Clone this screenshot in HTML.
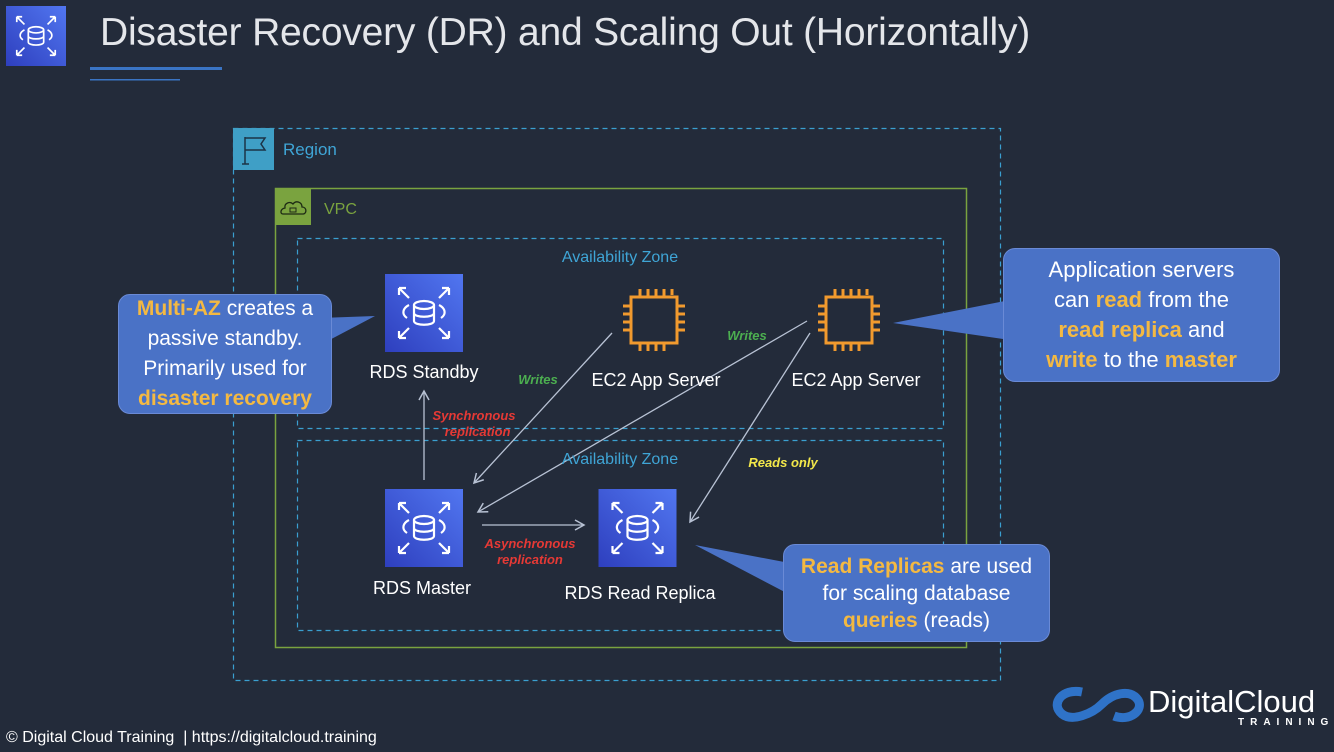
<!DOCTYPE html>
<html><head><meta charset="utf-8"><style>
body{margin:0;width:1334px;height:752px;background:#232b3a;overflow:hidden;font-family:"Liberation Sans",sans-serif;position:relative}
.a{position:absolute}
.t{position:absolute;white-space:nowrap;transform:translateX(-50%)}
.co{position:absolute;background:#4a72c6;border-radius:12px;border:1px solid #6a8ad6;color:#fff;font-size:21px;line-height:30px;text-align:center;display:flex;align-items:center;justify-content:center}
.y{color:#f4b942;font-weight:bold}
.lbl{position:absolute;font-size:13px;font-weight:bold;font-style:italic;text-align:center;line-height:16px;transform:translateX(-50%);white-space:nowrap}
</style></head><body>
<svg class="a" style="left:0;top:0" width="1334" height="752">
<defs>
<linearGradient id="g" x1="0" y1="1" x2="1" y2="0"><stop offset="0" stop-color="#2e3fbe"/><stop offset="1" stop-color="#5176f0"/></linearGradient>
<symbol id="rds" viewBox="0 0 78 78"><rect width="78" height="78" fill="url(#g)"/><g fill="none" stroke="#fff" stroke-width="2.2"><path d="M14 14l10 10M14 14h7M14 14v7M64 14l-10 10M64 14h-7M64 14v7M14 64l10-10M14 64h7M14 64v-7M64 64l-10-10M64 64h-7M64 64v-7"/><ellipse cx="39" cy="31" rx="10" ry="4"/><path d="M29 31v16c0 5 20 5 20 0V31M29 39c0 5 20 5 20 0"/><path d="M24 31c-6 3-8 9-2 13M54 31c6 3 8 9 2 13"/></g></symbol>
<symbol id="ec2" viewBox="0 0 68 68"><g fill="none" stroke="#f19a2e" stroke-width="3"><rect x="11" y="11" width="46" height="46"/><path d="M20 3v8M28 3v8M36 3v8M44 3v8M52 3v6M20 57v8M28 57v8M36 57v8M44 57v8M3 20h8M3 28h8M3 36h8M3 44h8M57 20h8M57 28h8M57 36h8M57 44h8"/></g></symbol>
<marker id="ar" markerWidth="12" markerHeight="12" refX="10" refY="6" orient="auto" markerUnits="userSpaceOnUse"><path d="M1 1L10 6L1 11" fill="none" stroke="#b8c2d4" stroke-width="1.5"/></marker>
</defs>
<use href="#rds" x="6" y="6" width="60" height="60"/>
<rect x="90" y="67" width="132" height="3" fill="#3a74c4"/>
<rect x="90" y="79" width="90" height="1.5" fill="#3a74c4"/>
<rect x="233.5" y="128.5" width="767" height="552" fill="none" stroke="#3a9fd0" stroke-dasharray="5,4" stroke-width="1.2"/>
<rect x="233" y="128" width="41" height="42" fill="#3f9fc6"/>
<g stroke="#1c3346" stroke-width="1.5" fill="none"><path d="M245 137v27M242 164h7M245 138h20l-4 6 4 6h-20"/></g>
<rect x="275.5" y="188.5" width="691" height="459" fill="none" stroke="#7aa33f" stroke-width="1.5"/>
<rect x="275" y="188" width="36" height="37" fill="#7aa33f"/>
<path d="M283 214h20c4 0 4-7-1-7 0-5-6-7-9-3-3-3-9-1-8 4-5 1-5 6-2 6z" fill="none" stroke="#1d2a14" stroke-width="1.3"/>
<rect x="290" y="208" width="6" height="4" fill="none" stroke="#1d2a14" stroke-width="1"/>
<rect x="297.5" y="238.5" width="646" height="190" fill="none" stroke="#3a9fd0" stroke-dasharray="5,4" stroke-width="1.2"/>
<rect x="297.5" y="440.5" width="646" height="190" fill="none" stroke="#3a9fd0" stroke-dasharray="5,4" stroke-width="1.2"/>
<use href="#rds" x="385" y="274" width="78" height="78"/>
<use href="#rds" x="385" y="489" width="78" height="78"/>
<use href="#rds" x="598" y="489" width="79" height="78"/>
<use href="#ec2" x="620" y="286" width="68" height="68"/>
<use href="#ec2" x="815" y="286" width="68" height="68"/>
<g stroke="#b8c2d4" stroke-width="1.3" marker-end="url(#ar)">
<line x1="424" y1="480" x2="424" y2="391"/>
<line x1="612" y1="333" x2="474" y2="483"/>
<line x1="807" y1="321" x2="478" y2="512"/>
<line x1="810" y1="333" x2="690" y2="522"/>
<line x1="482" y1="525" x2="584" y2="525"/>
</g>
<polygon points="320,318 375,316 320,345" fill="#4a72c6"/>
<polygon points="1010,300 893,323 1010,340" fill="#4a72c6"/>
<polygon points="800,565 695,545 800,600" fill="#4a72c6"/>
</svg>
<div class="a" style="left:100px;top:11px;font-size:39px;color:#e4e6ea;white-space:nowrap;letter-spacing:-0.2px">Disaster Recovery (DR) and Scaling Out (Horizontally)</div>
<div class="a" style="left:283px;top:140px;font-size:17px;color:#3fa5d6">Region</div>
<div class="a" style="left:324px;top:201px;font-size:16px;color:#7aa33f">VPC</div>
<div class="t" style="left:620px;top:249px;font-size:16px;color:#3fa5d6">Availability Zone</div>
<div class="t" style="left:620px;top:451px;font-size:16px;color:#3fa5d6">Availability Zone</div>
<div class="t" style="left:424px;top:362px;font-size:18px;color:#fff">RDS Standby</div>
<div class="t" style="left:656px;top:370px;font-size:18px;color:#fff">EC2 App Server</div>
<div class="t" style="left:856px;top:370px;font-size:18px;color:#fff">EC2 App Server</div>
<div class="t" style="left:422px;top:578px;font-size:18px;color:#fff">RDS Master</div>
<div class="t" style="left:640px;top:583px;font-size:18px;color:#fff">RDS Read Replica</div>
<div class="lbl" style="left:538px;top:372px;color:#4caf50">Writes</div>
<div class="lbl" style="left:747px;top:328px;color:#4caf50">Writes</div>
<div class="lbl" style="left:474px;top:408px;color:#e53935">Synchronous<br>&nbsp;&nbsp;replication</div>
<div class="lbl" style="left:783px;top:455px;color:#f3e84a">Reads only</div>
<div class="lbl" style="left:530px;top:536px;color:#e53935">Asynchronous<br>replication</div>
<div class="co" style="left:118px;top:294px;width:212px;height:118px"><div><span class="y">Multi-AZ</span> creates a passive standby. Primarily used for <span class="y">disaster recovery</span></div></div>
<div class="co" style="left:1003px;top:248px;width:275px;height:132px;font-size:22px"><div>Application servers<br>can <span class="y">read</span> from the<br><span class="y">read replica</span> and<br><span class="y">write</span> to the <span class="y">master</span></div></div>
<div class="co" style="left:783px;top:544px;width:265px;height:96px;line-height:27px"><div><span class="y">Read Replicas</span> are used<br>for scaling database<br><span class="y">queries</span> (reads)</div></div>
<div class="a" style="left:6px;top:729px;font-size:16px;color:#fff">© Digital Cloud Training &nbsp;| https://digitalcloud.training</div>
<svg class="a" style="left:1052px;top:680px" width="96" height="50"><path d="M30 12c-20-4-32 12-20 22 10 8 30 0 40-10s28-16 36-4c6 10-8 22-24 16" fill="none" stroke="#2f73c8" stroke-width="9"/></svg>
<div class="a" style="left:1148px;top:684px;font-size:31px;color:#fff">DigitalCloud</div>
<div class="a" style="left:1238px;top:717px;font-size:10px;color:#fff;letter-spacing:6px;font-weight:bold">TRAINING</div>
</body></html>
